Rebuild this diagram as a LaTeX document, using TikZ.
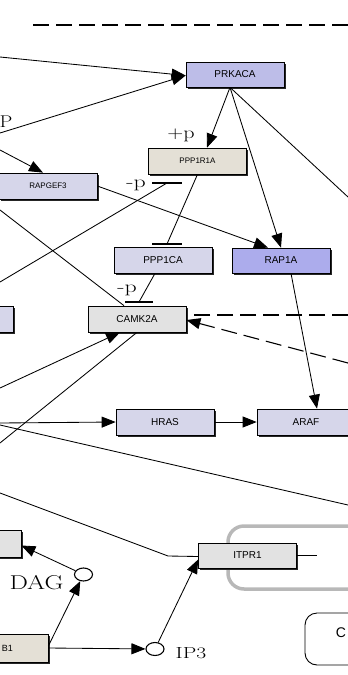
\documentclass[tikz,border=0pt]{standalone}
\usepackage{fontspec}
\newfontfamily\genefont{Liberation Sans}
\usepackage{xcolor}
\definecolor{prkblue}{RGB}{189,189,232}
\definecolor{rapblue}{RGB}{172,172,236}
\definecolor{paleblue}{RGB}{214,214,234}
\definecolor{greybox}{RGB}{226,226,226}
\definecolor{beigebox}{RGB}{228,224,214}
\usepackage{tikz}
\usetikzlibrary{positioning,arrows.meta,shapes,shadows}

\tikzset{
  gene/.style={draw, line width=.7pt, inner sep=0pt, minimum width=98pt, minimum height=25pt,
    font=\genefont\fontsize{10}{12}\selectfont,
    drop shadow={shadow xshift=1.6pt, shadow yshift=-1.6pt, fill=black!85, opacity=1}},
  smallgene/.style={gene, font=\genefont\fontsize{8}{10}\selectfont},
  cpd/.style={draw, ellipse, line width=1.1pt, minimum width=18pt, minimum height=13pt, inner sep=0pt},
  link/.style={line width=.85pt},
  act/.style={link, -{Triangle[length=14pt,width=11pt]}},
  dashlink/.style={link, line width=1.1pt, dash pattern=on 16pt off 7pt},
  phos/.style={font=\fontsize{17}{19}\selectfont, inner sep=0pt},
}

\begin{document}
\begin{tikzpicture}[x=1pt,y=-1pt]
\useasboundingbox (0,0) rectangle (348,675);
\clip (0,0) rectangle (348,675);

%%% COMPARTMENTS
\draw[line width=3.5pt, draw=black!28, rounded corners=16pt] (228,526) rectangle (430,589);
\draw[line width=.9pt, rounded corners=12pt] (305,613) rectangle (430,665);
\node[font=\genefont\fontsize{14}{16}\selectfont] (calbl) at (341,633) {C};

%%% GENES
\node[gene, fill=prkblue] (prkaca) at (235,74.5) {PRKACA};
\node[smallgene, fill=paleblue, minimum height=26pt] (rapgef3) at (48,186) {RAPGEF3};
\node[smallgene, fill=beigebox, minimum height=26pt] (ppp1r1a) at (197.5,161) {PPP1R1A};
\node[gene, fill=paleblue, minimum height=26pt] (ppp1ca) at (163,260) {PPP1CA};
\node[gene, fill=rapblue] (rap1a) at (281,260.5) {RAP1A};
\node[gene, fill=greybox, minimum height=26pt] (camk2a) at (137,319) {CAMK2A};
\node[gene, fill=paleblue, minimum height=26pt] (leftgene) at (-36,319) {};
\node[gene, fill=paleblue, minimum height=26pt] (hras) at (165,422) {HRAS};
\node[gene, fill=paleblue, minimum height=26pt] (araf) at (306,422) {ARAF};
\node[gene, fill=greybox] (itpr1) at (247.5,555.5) {ITPR1};
\node[gene, fill=greybox, minimum height=27pt] (dagtarget) at (-28,543.5) {};
\node[gene, fill=beigebox, minimum height=28pt] (plcb) at (-1,648) {};
\node[font=\genefont\fontsize{9}{11}\selectfont] (plcbtxt) at (7.5,648) {B1};

%%% COMPOUNDS
\node[cpd] (dag) at (83.5,574.5) {};
\node[cpd] (ip3) at (155,649) {};
\node[font=\fontsize{20}{22}\selectfont] (daglbl) at (36.5,583) {\scalebox{1.3}[1]{DAG}};
\node[font=\fontsize{16}{18}\selectfont] (ip3lbl) at (191,653) {\scalebox{1.35}[1]{IP3}};

%%% LOOSE ENDS AT THE EDGE
\coordinate (inA) at (0,57);
\coordinate (inB) at (0,133);
\coordinate (inC) at (0,150);
\coordinate (inD) at (0,282);
\coordinate (inE) at (0,210);
\coordinate (inF) at (0,388);
\coordinate (inG) at (0,443);
\coordinate (inH) at (0,423);
\coordinate (inI) at (0,425);
\coordinate (inJ) at (0,493);
\coordinate (outA) at (348,197);
\coordinate (outB) at (348,505);
\coordinate (outC) at (348,315);
\coordinate (outD) at (348,363);
\coordinate (topL) at (33,25);
\coordinate (topR) at (350,25);
\coordinate (bendJ) at (168,556);
\coordinate (stubR) at (317,555.5);

%%% TOP DASHED LINE
\draw[dashlink] (topL) -- (topR);

%%% INTO PRKACA
\draw[act] (inA) -- ([yshift=-1pt]prkaca.west);
\draw[act] (inB) -- ([yshift=-1pt]prkaca.west);
\node[phos] (plbl) at (6,122) {\scalebox{1.2}[1]{P}};

%%% PRKACA TARGETS
\draw[act] ([xshift=-5pt]prkaca.south) -- ([xshift=9.5pt]ppp1r1a.north);
\draw[act] ([xshift=-5pt]prkaca.south) -- (rap1a.north);
\draw[link] ([xshift=-5pt]prkaca.south) -- (outA);
\node[phos] (pluslbl) at (181,135) {\scalebox{1.3}[1]{+p}};

%%% RAPGEF3
\draw[act] (inC) -- ([xshift=-5pt]rapgef3.north);
\draw[act] (rapgef3.east) -- ([xshift=-13pt]rap1a.north);

%%% INHIBITIONS
\coordinate (barA) at (167,183);
\coordinate (barB) at (167,244);
\coordinate (barC) at (139,302);
\draw[link] (inD) -- (barA);
\draw[link, line width=1.2pt] ([xshift=-15pt]barA) -- ([xshift=15pt]barA);
\node[phos] (minusA) at (136,185) {\scalebox{1.4}[1]{-p}};
\draw[link] (ppp1r1a.south) -- (barB);
\draw[link, line width=1.2pt] ([xshift=-15pt]barB) -- ([xshift=15pt]barB);
\draw[link] ([xshift=-8pt]ppp1ca.south) -- (barC);
\draw[link, line width=1.2pt] ([xshift=-14pt]barC) -- ([xshift=14pt]barC);
\node[phos] (minusB) at (127,290) {\scalebox{1.4}[1]{-p}};

%%% CAMK2A
\draw[link] (inE) -- ([xshift=-13pt]camk2a.north);
\draw[act] (inF) -- ([xshift=-17pt]camk2a.south);
\draw[link] (inG) -- (camk2a.south);
\draw[dashlink] (outC) -- ([yshift=4pt]camk2a.east);
\draw[dashlink, -{Triangle[length=14pt,width=11pt]}] (outD) -- ([yshift=-1pt]camk2a.east);

%%% RAS / RAF
\draw[act] ([xshift=10pt]rap1a.south) -- ([xshift=11pt]araf.north);
\draw[act] (inH) -- (hras.west);
\draw[act] (hras.east) -- (araf.west);
\draw[link] (inI) -- (outB);

%%% ITPR1
\draw[link] (inJ) -- (bendJ) -- ([yshift=-1pt]itpr1.west);
\draw[link] (itpr1.east) -- (stubR);

%%% SECOND MESSENGERS
\draw[act] ([yshift=2pt]plcb.east) -- (dag);
\draw[act] (plcb.east) -- (ip3);
\draw[act] (dag) -- ([yshift=-2pt]dagtarget.east);
\draw[act] (ip3) -- ([yshift=-4pt]itpr1.west);

\end{tikzpicture}
\end{document}
